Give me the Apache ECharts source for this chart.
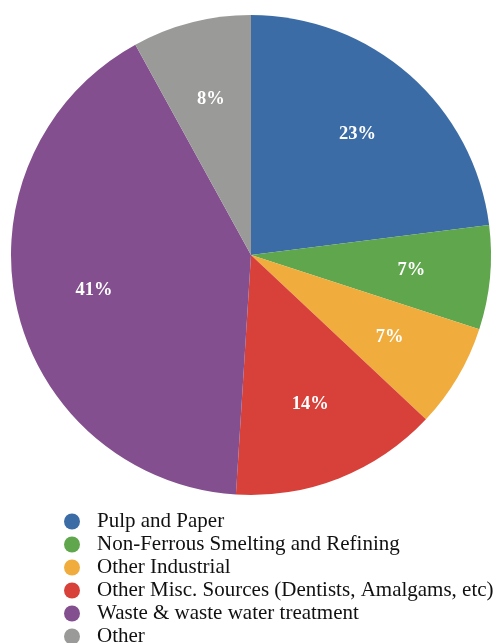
<!DOCTYPE html>
<html>
<head>
<meta charset="utf-8">
<script src="https://cdn.jsdelivr.net/npm/echarts@6/dist/echarts.min.js"></script>
<style>
  html, body { margin: 0; padding: 0; background: #ffffff; }
  #chart { width: 498px; height: 643px; }
</style>
</head>
<body>
<div id="chart"></div>
<script>
// Mercury emission sources, share of total (%)
const categories = [
  'Pulp and Paper',
  'Non-Ferrous Smelting and Refining',
  'Other Industrial',
  'Other Misc. Sources (Dentists, Amalgams, etc)',
  'Waste & waste water treatment',
  'Other'
];
const shares = [23, 7, 7, 14, 41, 8];
const colors = ['#3b6ca6', '#5fa64d', '#f0ad3d', '#d8413a', '#834f8f', '#9a9a98'];

const serif = '"Liberation Serif", "Times New Roman", serif';

const pieData = categories.map((name, i) => ({
  name: name,
  value: shares[i],
  itemStyle: { color: colors[i] }
}));

const center = [251, 255];
const outerR = 240;

const chart = echarts.init(document.getElementById('chart'));
chart.setOption({
  animation: false,
  color: colors,
  textStyle: { fontFamily: serif },
  legend: {
    type: 'plain',
    orient: 'vertical',
    left: 64,
    top: 511,
    height: 220,
    padding: 0,
    icon: 'circle',
    itemWidth: 16,
    itemHeight: 16,
    itemGap: 2,
    data: categories,
    textStyle: {
      fontFamily: serif,
      fontSize: 21,
      lineHeight: 21,
      color: '#111111',
      padding: [0, 0, 0, 12]
    }
  },
  series: [
    {
      type: 'pie',
      center: center,
      radius: [0, outerR],
      startAngle: 90,
      clockwise: true,
      silent: true,
      label: { show: false },
      labelLine: { show: false },
      itemStyle: { borderWidth: 0 },
      data: pieData
    },
    {
      // label ring: places percentage text at ~2/3 of the radius
      type: 'pie',
      center: center,
      radius: [76, outerR],
      startAngle: 90,
      clockwise: true,
      silent: true,
      itemStyle: { color: 'rgba(0,0,0,0)', borderWidth: 0 },
      label: {
        show: true,
        position: 'inside',
        formatter: p => p.value + '%',
        color: '#ffffff',
        fontFamily: serif,
        fontWeight: 'bold',
        fontSize: 18.5
      },
      labelLine: { show: false },
      data: categories.map((name, i) => ({ name: name, value: shares[i] }))
    }
  ]
});
</script>
</body>
</html>
